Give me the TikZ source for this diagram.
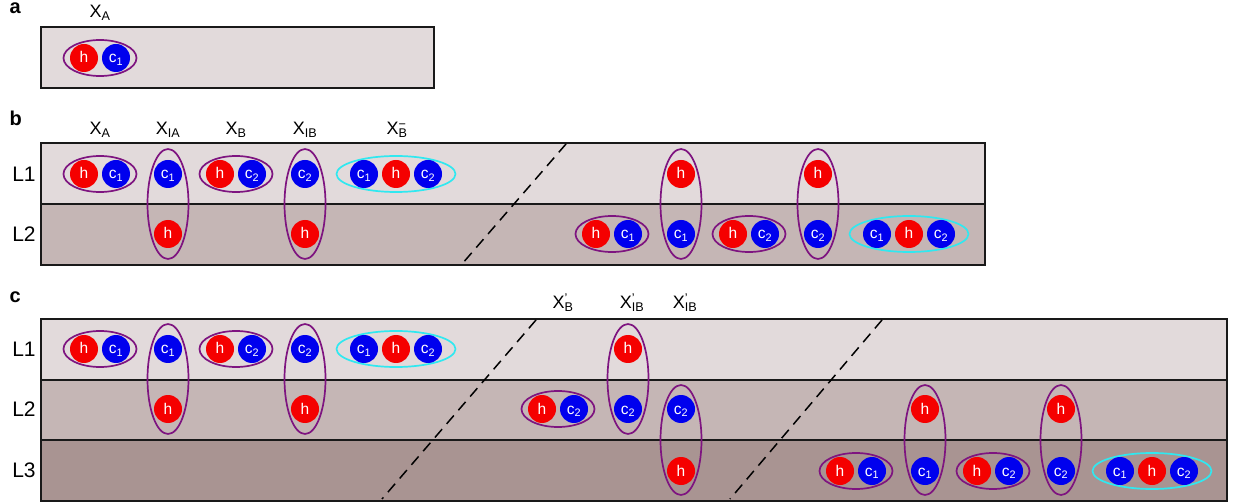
\documentclass[tikz,border=0pt]{standalone}
\usepackage{fontspec}
\setmainfont{Liberation Sans}
\usetikzlibrary{shapes.geometric}

\definecolor{layerone}{HTML}{E2DADB}
\definecolor{layertwo}{HTML}{C5B6B5}
\definecolor{layerthree}{HTML}{A99492}
\definecolor{holered}{HTML}{F50000}
\definecolor{elecblue}{HTML}{0000EE}
\definecolor{ringpurple}{HTML}{7E1480}
\definecolor{ringcyan}{HTML}{30E8F0}

\newcommand{\xlab}[2]{X\rlap{\textsuperscript{#2}}\textsubscript{#1}}

\tikzset{
  layer/.style={draw=black!90, line width=1.6pt},
  panel/.style={anchor=base west, font=\fontsize{20}{20}\selectfont\bfseries},
  lname/.style={font=\fontsize{21}{21}\selectfont},
  xname/.style={anchor=base, font=\fontsize{18}{18}\selectfont},
  hole/.style={circle, fill=holered, text=white, minimum size=28pt,
    inner sep=0pt, text height=10pt, text depth=0pt,
    font=\fontsize{15.5}{15.5}\selectfont},
  elec/.style={hole, fill=elecblue},
  pairring/.style={ellipse, draw=ringpurple, line width=1.7pt,
    minimum width=73pt, minimum height=36pt, inner sep=0pt},
  stackring/.style={pairring, minimum width=41pt, minimum height=110pt},
  triring/.style={pairring, draw=ringcyan, minimum width=119pt},
  cut/.style={line width=1.5pt, dash pattern=on 11pt off 7pt}
}

\begin{document}
\begin{tikzpicture}[x=1pt,y=-1pt]
  \useasboundingbox (0,0) rectangle (1234,502);

  % panel a
  \node[panel] (pa) at (6,14) {a};
  \node[xname] (aXA) at (100,18) {\xlab{A}{}};
  \draw[layer, fill=layerone] (41,27) rectangle (434,88);
  \node[pairring] (aXAr) at (100,58) {};
  \node[hole] (aXAh) at (84,58) {h};
  \node[elec] (aXAc) at (116,58) {c\textsubscript{1}};

  % panel b
  \node[panel] (pb) at (6,126) {b};
  \node[xname] (bXA) at (100,135) {\xlab{A}{}};
  \node[xname] (bXIA) at (168,135) {\xlab{IA}{}};
  \node[xname] (bXB) at (236,135) {\xlab{B}{}};
  \node[xname] (bXIB) at (305,135) {\xlab{IB}{}};
  \node[xname] (bXBm) at (397,135) {\xlab{B}{\char"2212}};
  \draw[layer, fill=layerone] (41,143) rectangle (985,204);
  \draw[layer, fill=layertwo] (41,204) rectangle (985,265);
  \node[lname] (bL1) at (24,174) {L1};
  \node[lname] (bL2) at (24,234) {L2};
  \coordinate (bcuttop) at (566,144);
  \coordinate (bcutbot) at (462,264);
  \draw[cut] (bcuttop) -- (bcutbot);

  \node[pairring] (bXAr) at (100,174) {};
  \node[hole] (bXAh) at (84,174) {h};
  \node[elec] (bXAc) at (116,174) {c\textsubscript{1}};
  \node[stackring] (bXIAr) at (168,204) {};
  \node[elec] (bXIAc) at (168,174) {c\textsubscript{1}};
  \node[hole] (bXIAh) at (168,234) {h};
  \node[pairring] (bXBr) at (236,174) {};
  \node[hole] (bXBh) at (220,174) {h};
  \node[elec] (bXBc) at (252,174) {c\textsubscript{2}};
  \node[stackring] (bXIBr) at (305,204) {};
  \node[elec] (bXIBc) at (305,174) {c\textsubscript{2}};
  \node[hole] (bXIBh) at (305,234) {h};
  \node[triring] (bXBmr) at (396,174) {};
  \node[elec] (bXBmc1) at (364,174) {c\textsubscript{1}};
  \node[hole] (bXBmh) at (396,174) {h};
  \node[elec] (bXBmc2) at (428,174) {c\textsubscript{2}};

  \node[stackring] (bYIAr) at (681,204) {};
  \node[hole] (bYIAh) at (681,174) {h};
  \node[elec] (bYIAc) at (681,234) {c\textsubscript{1}};
  \node[stackring] (bYIBr) at (818,204) {};
  \node[hole] (bYIBh) at (818,174) {h};
  \node[elec] (bYIBc) at (818,234) {c\textsubscript{2}};
  \node[pairring] (bYAr) at (612,234) {};
  \node[hole] (bYAh) at (596,234) {h};
  \node[elec] (bYAc) at (628,234) {c\textsubscript{1}};
  \node[pairring] (bYBr) at (749,234) {};
  \node[hole] (bYBh) at (733,234) {h};
  \node[elec] (bYBc) at (765,234) {c\textsubscript{2}};
  \node[triring] (bYBmr) at (909,234) {};
  \node[elec] (bYBmc1) at (877,234) {c\textsubscript{1}};
  \node[hole] (bYBmh) at (909,234) {h};
  \node[elec] (bYBmc2) at (941,234) {c\textsubscript{2}};

  % panel c
  \node[panel] (pc) at (6,303) {c};
  \node[xname] (cXBp) at (563,309) {\xlab{B}{\char"27}};
  \node[xname] (cXIBp) at (632,309) {\xlab{IB}{\char"27}};
  \node[xname] (cXIBpp) at (685,309) {\xlab{IB}{\char"27}};
  \draw[layer, fill=layerone] (41,319) rectangle (1227,380);
  \draw[layer, fill=layertwo] (41,380) rectangle (1227,440);
  \draw[layer, fill=layerthree] (41,440) rectangle (1227,501);
  \node[lname] (cL1) at (24,349) {L1};
  \node[lname] (cL2) at (24,409) {L2};
  \node[lname] (cL3) at (24,470) {L3};
  \coordinate (ccuttop) at (536,320);
  \coordinate (ccutbot) at (382,499);
  \coordinate (dcuttop) at (882,320);
  \coordinate (dcutbot) at (730,499);
  \draw[cut] (ccuttop) -- (ccutbot);
  \draw[cut] (dcuttop) -- (dcutbot);

  \node[pairring] (cXAr) at (100,349) {};
  \node[hole] (cXAh) at (84,349) {h};
  \node[elec] (cXAc) at (116,349) {c\textsubscript{1}};
  \node[stackring] (cXIAr) at (168,379) {};
  \node[elec] (cXIAc) at (168,349) {c\textsubscript{1}};
  \node[hole] (cXIAh) at (168,409) {h};
  \node[pairring] (cXBr) at (236,349) {};
  \node[hole] (cXBh) at (220,349) {h};
  \node[elec] (cXBc) at (252,349) {c\textsubscript{2}};
  \node[stackring] (cXIBr) at (305,379) {};
  \node[elec] (cXIBc) at (305,349) {c\textsubscript{2}};
  \node[hole] (cXIBh) at (305,409) {h};
  \node[triring] (cXBmr) at (396,349) {};
  \node[elec] (cXBmc1) at (364,349) {c\textsubscript{1}};
  \node[hole] (cXBmh) at (396,349) {h};
  \node[elec] (cXBmc2) at (428,349) {c\textsubscript{2}};

  \node[pairring] (cYBr) at (558,409) {};
  \node[hole] (cYBh) at (542,409) {h};
  \node[elec] (cYBc) at (574,409) {c\textsubscript{2}};
  \node[stackring] (cYIBr) at (628,379) {};
  \node[hole] (cYIBh) at (628,349) {h};
  \node[elec] (cYIBc) at (628,409) {c\textsubscript{2}};
  \node[stackring] (cZIBr) at (681,440) {};
  \node[elec] (cZIBc) at (681,409) {c\textsubscript{2}};
  \node[hole] (cZIBh) at (681,471) {h};

  \node[pairring] (cZAr) at (856,471) {};
  \node[hole] (cZAh) at (840,471) {h};
  \node[elec] (cZAc) at (872,471) {c\textsubscript{1}};
  \node[stackring] (cZIAr) at (925,440) {};
  \node[hole] (cZIAh) at (925,409) {h};
  \node[elec] (cZIAc) at (925,471) {c\textsubscript{1}};
  \node[pairring] (cZBr) at (993,471) {};
  \node[hole] (cZBh) at (977,471) {h};
  \node[elec] (cZBc) at (1009,471) {c\textsubscript{2}};
  \node[stackring] (cZIBr2) at (1061,440) {};
  \node[hole] (cZIBh2) at (1061,409) {h};
  \node[elec] (cZIBc2) at (1061,471) {c\textsubscript{2}};
  \node[triring] (cZBmr) at (1152,471) {};
  \node[elec] (cZBmc1) at (1120,471) {c\textsubscript{1}};
  \node[hole] (cZBmh) at (1152,471) {h};
  \node[elec] (cZBmc2) at (1184,471) {c\textsubscript{2}};
\end{tikzpicture}
\end{document}
